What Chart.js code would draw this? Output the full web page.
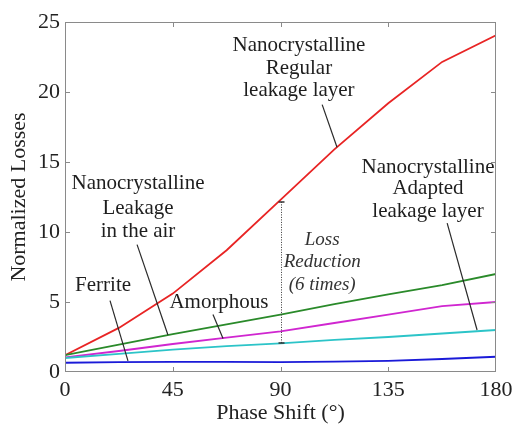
<!DOCTYPE html>
<html>
<head>
<meta charset="utf-8">
<script src="https://cdn.jsdelivr.net/npm/chart.js@4/dist/chart.umd.min.js"></script>
<style>
  html, body { margin: 0; padding: 0; background: #fff; }
  canvas { display: block; }
</style>
</head>
<body>
<canvas id="chart" width="512" height="424"></canvas>
<script>
// Данные
const phase = [0, 22.5, 45, 67.5, 90, 112.5, 135, 157.5, 180];
const nanoRegular = [1.2, 3.15, 5.6, 8.7, 12.3, 15.9, 19.2, 22.15, 24.05];
const nanoAir = [1.2, 1.95, 2.7, 3.4, 4.1, 4.85, 5.55, 6.2, 7.0];
const amorphous = [1.05, 1.5, 2.0, 2.45, 2.9, 3.5, 4.1, 4.7, 5.0];
const nanoAdapted = [1.0, 1.3, 1.6, 1.85, 2.05, 2.3, 2.5, 2.75, 3.0];
const ferrite = [0.66, 0.7, 0.73, 0.72, 0.71, 0.74, 0.8, 0.93, 1.09];
const xTicks = [0, 45, 90, 135, 180];
const yTicks = [0, 5, 10, 15, 20, 25];

const serif = '"Liberation Serif", "Times New Roman", serif';
const pts = arr => arr.map((v, i) => ({ x: phase[i], y: v }));

function line(data, color) {
  return { data: pts(data), borderColor: color, borderWidth: 1.8, pointRadius: 0, tension: 0, fill: false };
}

// Подписи и выноски (в координатах данных)
const labels = [
  { lines: ['Nanocrystalline', 'Regular', 'leakage layer'], x: 97.7, y: [23.3, 21.7, 20.1], lead: [107.4, 19.1, 113.6, 16.05] },
  { lines: ['Nanocrystalline', 'Leakage', 'in the air'], x: 30.5, y: [13.5, 11.7, 10.05], lead: [30.1, 9.1, 43.0, 2.64] },
  { lines: ['Ferrite'], x: 15.9, y: [6.2], lead: [18.8, 5.1, 26.3, 0.8] },
  { lines: ['Amorphous'], x: 64.3, y: [4.93], lead: [61.8, 4.1, 66.0, 2.4] },
  { lines: ['Nanocrystalline', 'Adapted', 'leakage layer'], x: 151.6, y: [14.64, 13.14, 11.45], lead: [159.6, 10.64, 172.1, 3.0] }
];
const reduction = { lines: ['Loss', 'Reduction', '(6 times)'], x: 107.4, y: [9.43, 7.86, 6.21], from: 12.15, to: 2.07 };

const decor = {
  id: 'decor',
  afterDatasetsDraw(chart) {
    const { ctx, chartArea: a, scales: { x, y } } = chart;
    ctx.save();
    // рамка и внутренние засечки
    ctx.strokeStyle = '#8a8a8a';
    ctx.lineWidth = 1;
    ctx.strokeRect(a.left + 0.5, a.top + 0.5, a.right - a.left - 1, a.bottom - a.top - 1);
    ctx.beginPath();
    xTicks.slice(1, -1).forEach(v => {
      const px = Math.round(x.getPixelForValue(v)) + 0.5;
      ctx.moveTo(px, a.bottom); ctx.lineTo(px, a.bottom - 5);
      ctx.moveTo(px, a.top); ctx.lineTo(px, a.top + 5);
    });
    yTicks.slice(1, -1).forEach(v => {
      const py = Math.round(y.getPixelForValue(v)) + 0.5;
      ctx.moveTo(a.left, py); ctx.lineTo(a.left + 5, py);
      ctx.moveTo(a.right, py); ctx.lineTo(a.right - 5, py);
    });
    ctx.stroke();

    // выноски
    ctx.strokeStyle = '#2a2a2a';
    ctx.lineWidth = 1.2;
    ctx.fillStyle = '#1e1e1e';
    ctx.textAlign = 'center';
    ctx.textBaseline = 'middle';
    ctx.font = '21px ' + serif;
    labels.forEach(l => {
      ctx.beginPath();
      ctx.moveTo(x.getPixelForValue(l.lead[0]), y.getPixelForValue(l.lead[1]));
      ctx.lineTo(x.getPixelForValue(l.lead[2]), y.getPixelForValue(l.lead[3]));
      ctx.stroke();
      l.lines.forEach((t, i) => ctx.fillText(t, x.getPixelForValue(l.x), y.getPixelForValue(l.y[i])));
    });

    // пунктир снижения потерь
    const px = Math.round(x.getPixelForValue(90)) + 0.5;
    const top = y.getPixelForValue(reduction.from);
    const bot = y.getPixelForValue(reduction.to);
    ctx.strokeStyle = '#333';
    ctx.lineWidth = 1;
    ctx.setLineDash([1, 1.5]);
    ctx.beginPath();
    ctx.moveTo(px, top); ctx.lineTo(px, bot);
    ctx.stroke();
    ctx.setLineDash([]);
    ctx.lineWidth = 1.5;
    ctx.beginPath();
    ctx.moveTo(px - 3, top); ctx.lineTo(px + 3, top);
    ctx.moveTo(px - 3, bot); ctx.lineTo(px + 3, bot);
    ctx.stroke();
    ctx.font = 'italic 19px ' + serif;
    ctx.fillStyle = '#333';
    reduction.lines.forEach((t, i) => ctx.fillText(t, x.getPixelForValue(reduction.x), y.getPixelForValue(reduction.y[i])));
    ctx.restore();
  }
};

new Chart(document.getElementById('chart'), {
  type: 'line',
  data: {
    datasets: [
      line(ferrite, '#1a1ad8'),
      line(nanoAdapted, '#2cc4c8'),
      line(amorphous, '#d026d0'),
      line(nanoAir, '#2a8a2a'),
      line(nanoRegular, '#e82424')
    ]
  },
  options: {
    responsive: false,
    animation: false,
    layout: { padding: { left: 0, top: 22, right: 16, bottom: 0 } },
    plugins: { legend: { display: false }, tooltip: { enabled: false } },
    scales: {
      x: {
        type: 'linear', min: 0, max: 180,
        afterBuildTicks: s => { s.ticks = xTicks.map(v => ({ value: v })); },
        afterFit: s => { s.height = 52; s.paddingLeft = 0; s.paddingRight = 0; },
        grid: { display: false, drawTicks: false },
        border: { display: false },
        ticks: { color: '#222', padding: 5, maxRotation: 0, font: { family: serif, size: 22 } },
        title: { display: true, text: 'Phase Shift (°)', color: '#222', padding: { top: 0, bottom: -2 }, font: { family: serif, size: 22 } }
      },
      y: {
        min: 0, max: 25,
        afterBuildTicks: s => { s.ticks = yTicks.map(v => ({ value: v })); },
        afterFit: s => { s.width = 65; s.paddingTop = 0; s.paddingBottom = 0; },
        grid: { display: false, drawTicks: false },
        border: { display: false },
        ticks: { color: '#222', padding: 5, font: { family: serif, size: 22 } },
        title: { display: true, text: 'Normalized Losses', color: '#222', padding: { top: 6, bottom: 0 }, font: { family: serif, size: 22 } }
      }
    }
  },
  plugins: [decor]
});
</script>
</body>
</html>
